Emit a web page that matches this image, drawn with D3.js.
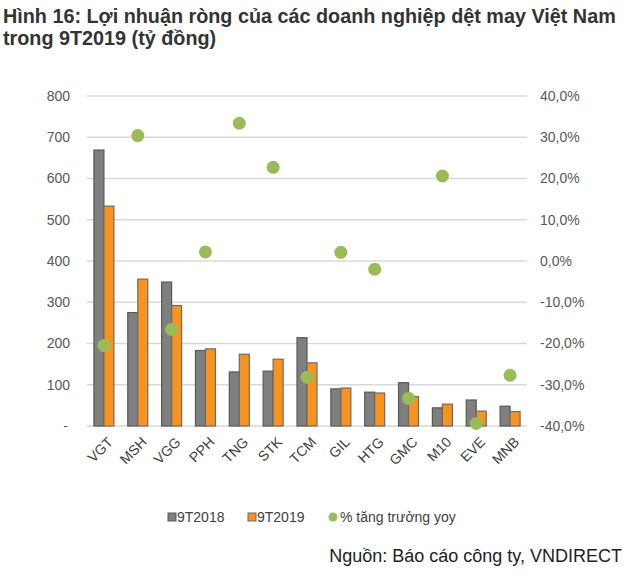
<!DOCTYPE html>
<html>
<head>
<meta charset="utf-8">
<script src="https://cdn.jsdelivr.net/npm/d3@7"></script>
<style>
  body { margin: 0; background: #fff; }
  svg { font-family: "Liberation Sans", Arial, sans-serif; }
  .grid line { stroke: #d9d9d9; stroke-width: 1.5; }
  .axis text { fill: #595959; font-size: 14px; }
</style>
</head>
<body>
<div id="chart"></div>
<script>
var companies = ["VGT", "MSH", "VGG", "PPH", "TNG", "STK", "TCM", "GIL", "HTG", "GMC", "M10", "EVE", "MNB"];
var profit2018 = [669, 275, 349, 183, 131, 133, 214, 90, 82, 105, 44, 63, 48];
var profit2019 = [533, 356, 292, 187, 174, 162, 153, 92, 80, 71, 53, 36, 35];
var growthYoy = [-20.5, 30.4, -16.6, 2.2, 33.4, 22.7, -28.2, 2.1, -2.0, -33.3, 20.6, -39.4, -27.7];
var leftTicks = [0, 100, 200, 300, 400, 500, 600, 700, 800];
var rightTicks = [-40, -30, -20, -10, 0, 10, 20, 30, 40];

var W = 630, H = 574;
var plotLeft = 87, plotRight = 527, plotTop = 96, plotBottom = 426;

var svg = d3.select("#chart").append("svg")
    .attr("width", W)
    .attr("height", H);

// title
var title = svg.append("text")
    .attr("font-weight", "bold")
    .attr("font-size", "19.8px")
    .attr("fill", "#333");
title.append("tspan").attr("x", 3).attr("y", 23)
    .text("Hình 16: Lợi nhuận ròng của các doanh nghiệp dệt may Việt Nam");
title.append("tspan").attr("x", 3).attr("y", 45)
    .text("trong 9T2019 (tỷ đồng)");

var x = d3.scaleBand().domain(companies).range([plotLeft, plotRight]);
var y = d3.scaleLinear().domain([0, 800]).range([plotBottom, plotTop]);
var y2 = d3.scaleLinear().domain([-40, 40]).range([plotBottom, plotTop]);
var barW = 10;

// gridlines
svg.append("g").attr("class", "grid")
    .selectAll("line").data(leftTicks).enter().append("line")
    .attr("x1", plotLeft).attr("x2", plotRight)
    .attr("y1", function(d) { return y(d); })
    .attr("y2", function(d) { return y(d); });

// left axis
var leftAxis = svg.append("g").attr("class", "axis")
    .attr("transform", "translate(70,0)")
    .call(d3.axisLeft(y).tickValues(leftTicks).tickSize(0).tickPadding(0)
        .tickFormat(function(d) { return d === 0 ? "-" : d; }));
leftAxis.select(".domain").remove();
leftAxis.selectAll("text").filter(function(d) { return d === 0; }).attr("dx", -2);

// right axis
var rightAxis = svg.append("g").attr("class", "axis")
    .attr("transform", "translate(540,0)")
    .call(d3.axisRight(y2).tickValues(rightTicks).tickSize(0).tickPadding(0)
        .tickFormat(function(d) { return d3.format(".1f")(d).replace(".", ",").replace("−", "-") + "%"; }));
rightAxis.select(".domain").remove();

// bars
var groups = svg.append("g").selectAll("g").data(companies).enter().append("g")
    .attr("transform", function(d) { return "translate(" + (x(d) + x.bandwidth() / 2) + ",0)"; });

groups.append("rect")
    .attr("x", -barW)
    .attr("width", barW)
    .attr("y", function(d, i) { return y(profit2018[i]); })
    .attr("height", function(d, i) { return y(0) - y(profit2018[i]); })
    .attr("fill", "#7f7f7f")
    .attr("stroke", "#595959")
    .attr("stroke-width", 1.2);

groups.append("rect")
    .attr("x", 0)
    .attr("width", barW)
    .attr("y", function(d, i) { return y(profit2019[i]); })
    .attr("height", function(d, i) { return y(0) - y(profit2019[i]); })
    .attr("fill", "#f7931e")
    .attr("stroke", "#6b6b6b")
    .attr("stroke-width", 1.2);

// growth dots
groups.append("circle")
    .attr("cy", function(d, i) { return y2(growthYoy[i]); })
    .attr("r", 6.5)
    .attr("fill", "#9bbb59");

// x labels
svg.append("g").selectAll("text").data(companies).enter().append("text")
    .attr("transform", function(d) {
        return "translate(" + (x(d) + x.bandwidth() / 2 + 3) + ",436) rotate(-45)";
    })
    .attr("text-anchor", "end")
    .attr("dy", "0.7em")
    .attr("font-size", "14px")
    .attr("fill", "#404040")
    .text(function(d) { return d; });

// legend
var legendY = 517;
var legend = svg.append("g").attr("font-size", "14px").attr("fill", "#404040");
legend.append("rect").attr("x", 168).attr("y", legendY - 4).attr("width", 8).attr("height", 8)
    .attr("fill", "#7f7f7f").attr("stroke", "#595959");
legend.append("text").attr("x", 177).attr("y", legendY + 5).text("9T2018");
legend.append("rect").attr("x", 248).attr("y", legendY - 4).attr("width", 8).attr("height", 8)
    .attr("fill", "#f7931e").attr("stroke", "#6b6b6b");
legend.append("text").attr("x", 257).attr("y", legendY + 5).text("9T2019");
legend.append("circle").attr("cx", 333).attr("cy", legendY).attr("r", 4.5).attr("fill", "#9bbb59");
legend.append("text").attr("x", 340).attr("y", legendY + 5).text("% tăng trưởng yoy");

// source
svg.append("text")
    .attr("x", 622).attr("y", 562)
    .attr("text-anchor", "end")
    .attr("font-size", "18px")
    .attr("fill", "#222")
    .text("Nguồn: Báo cáo công ty, VNDIRECT");
</script>
</body>
</html>
